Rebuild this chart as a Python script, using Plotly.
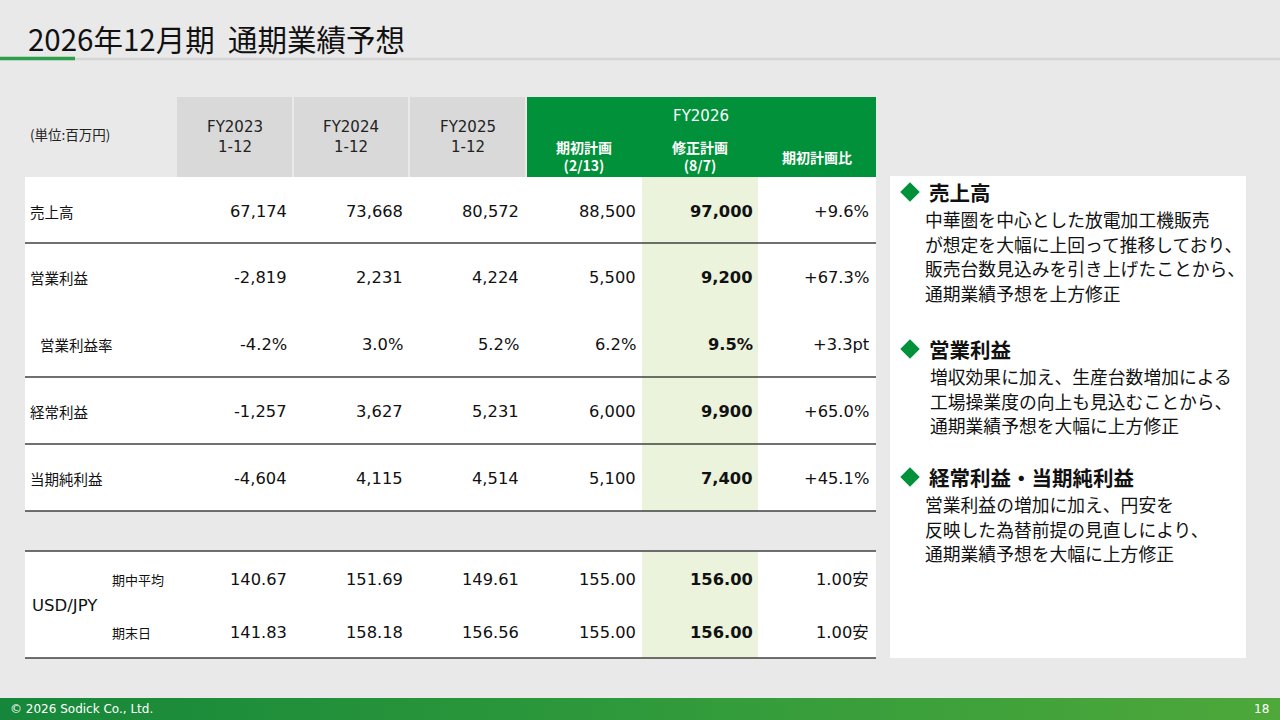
import plotly.graph_objects as go

# --- data ---
row_labels = ["売上高", "営業利益", "営業利益率", "経常利益", "当期純利益"]
fy2023 = [67174, -2819, -4.2, -1257, -4604]
fy2024 = [73668, 2231, 3.0, 3627, 4115]
fy2025 = [80572, 4224, 5.2, 5231, 4514]
plan_initial = [88500, 5500, 6.2, 6000, 5100]
plan_revised = [97000, 9200, 9.5, 9900, 7400]
vs_initial = ["+9.6%", "+67.3%", "+3.3pt", "+65.0%", "+45.1%"]
ratio_row = "営業利益率"

fx_labels = ["期中平均", "期末日"]
fx_2023 = [140.67, 141.83]
fx_2024 = [151.69, 158.18]
fx_2025 = [149.61, 156.56]
fx_initial = [155.00, 155.00]
fx_revised = [156.00, 156.00]
fx_vs = ["1.00安", "1.00安"]

past_headers = ["FY2023<br>1-12", "FY2024<br>1-12", "FY2025<br>1-12"]
fy26_headers = ["期初計画<br>(2/13)", "修正計画<br>(8/7)", "期初計画比"]

notes = [
    ("売上高", ["中華圏を中心とした放電加工機販売", "が想定を大幅に上回って推移しており、",
               "販売台数見込みを引き上げたことから、", "通期業績予想を上方修正"]),
    ("営業利益", ["増収効果に加え、生産台数増加による", "工場操業度の向上も見込むことから、",
                "通期業績予想を大幅に上方修正"]),
    ("経常利益・当期純利益", ["営業利益の増加に加え、円安を", "反映した為替前提の見直しにより、",
                       "通期業績予想を大幅に上方修正"]),
]

JP = "Noto Sans CJK JP"
NUM = "DejaVu Sans, Noto Sans CJK JP"
BG = "#e9e9e9"
GREEN = "#00913a"
LIGHT_GREEN = "#ebf3dc"
GREY_HEAD = "#d9d9d9"
LINE = "#404040"

fig = go.Figure()


def rect(x0, y0, x1, y1, color, line_color=None, width=0):
    fig.add_shape(type="rect", x0=x0, y0=y0, x1=x1, y1=y1, fillcolor=color,
                  line=dict(color=line_color or color, width=width), layer="below")


def hline(y, x0=25, x1=876, color=LINE, width=1.3):
    fig.add_shape(type="line", x0=x0, x1=x1, y0=y, y1=y, line=dict(color=color, width=width))


def text(x, y, s, size, color="black", anchor="left", family=JP):
    fig.add_annotation(x=x, y=y, text=s, showarrow=False, xanchor=anchor, yanchor="middle",
                       font=dict(family=family, size=size, color=color), align="center")


# title and rule
text(26, 38, "2026年12月期  通期業績予想", 29.5, "#111111")
hline(59, 0, 1280, "#d6d6d6", 2.5)
hline(58.5, 0, 75, "#2e9e4a", 3.5)

# header cells
past_x = [(177, 292), (294, 408), (410, 525)]
for (x0, x1), h in zip(past_x, past_headers):
    rect(x0, 97, x1, 177, GREY_HEAD)
    text((x0 + x1) / 2, 137, h, 15, "#222222", "center", NUM)
rect(527, 97, 876, 177, GREEN)
text(701, 116, "FY2026", 15, "white", "center", NUM)
for cx, h in zip([584, 700, 817], fy26_headers):
    text(cx, 156 if "<br>" in h else 157, "<b>" + h + "</b>", 14, "white", "center")
text(28, 134, "(単位:百万円)", 13.5, "#222222")

# table bodies
rect(25, 177, 876, 511, "white")
rect(642, 177, 758, 511, LIGHT_GREEN)
rect(25, 551, 876, 658, "white")
rect(642, 551, 758, 658, LIGHT_GREEN)
for y in [243, 377, 444, 511, 551, 658]:
    hline(y)


def fmt(v, is_ratio):
    if is_ratio:
        return f"{v:.1f}%"
    return f"{v:,}"


row_y = [211, 277, 344, 411, 478]
col_right = [289, 405, 521, 638, 755, 871]
for i, (lab, y) in enumerate(zip(row_labels, row_y)):
    is_ratio = lab == ratio_row
    text(38 if is_ratio else 28, y, lab, 14.5, "#111111")
    vals = [fmt(s[i], is_ratio) for s in (fy2023, fy2024, fy2025, plan_initial)]
    vals.append("<b>" + fmt(plan_revised[i], is_ratio) + "</b>")
    vals.append(vs_initial[i])
    for xr, v in zip(col_right, vals):
        text(xr, y, v, 16.3, "#111111", "right", NUM)

fx_y = [579, 632]
text(30, 605, "USD/JPY", 16.5, "#111111", "left", NUM)
for i, (lab, y) in enumerate(zip(fx_labels, fx_y)):
    text(110, y, lab, 13, "#111111")
    vals = [f"{s[i]:.2f}" for s in (fx_2023, fx_2024, fx_2025, fx_initial)]
    vals.append(f"<b>{fx_revised[i]:.2f}</b>")
    vals.append(fx_vs[i])
    for xr, v in zip(col_right, vals):
        text(xr, y, v, 16.3, "#111111", "right", NUM)

# right-hand notes panel
rect(890, 176, 1246, 658, "white")
head_y = [192, 349, 477]
body_x = [923, 928, 923]
dia_x, dia_y = [], []
for (head, lines), hy, bx in zip(notes, head_y, body_x):
    dia_x.append(910)
    dia_y.append(hy)
    text(927, hy, "<b>" + head + "</b>", 20.5, "#111111")
    for k, ln in enumerate(lines):
        text(bx, hy + 27 + k * 24.5, ln, 17.8, "#111111")
fig.add_trace(go.Scatter(x=dia_x, y=dia_y, mode="markers", hoverinfo="skip",
                         marker=dict(symbol="diamond", size=15, color=GREEN)))

# footer bar with gradient
fig.add_trace(go.Scatter(x=[0, 1280, 1280, 0, 0], y=[698, 698, 720, 720, 698], mode="lines",
                         line=dict(width=0), fill="toself", hoverinfo="skip",
                         fillgradient=dict(type="horizontal",
                                           colorscale=[[0, "#16873a"], [0.5, "#2f9a3b"], [1, "#4ea83a"]])))
text(8, 709, "© 2026 Sodick Co., Ltd.", 12, "white", "left", "DejaVu Sans")
text(1271, 709, "18", 12, "white", "right", "DejaVu Sans")

fig.update_layout(
    width=1280, height=720, margin=dict(l=0, r=0, t=0, b=0),
    paper_bgcolor=BG, plot_bgcolor=BG, showlegend=False,
    xaxis=dict(range=[0, 1280], visible=False, fixedrange=True),
    yaxis=dict(range=[720, 0], visible=False, fixedrange=True),
)

fig.write_html("out.html", config={"displayModeBar": False},
               post_script="document.body.style.margin='0px';")
